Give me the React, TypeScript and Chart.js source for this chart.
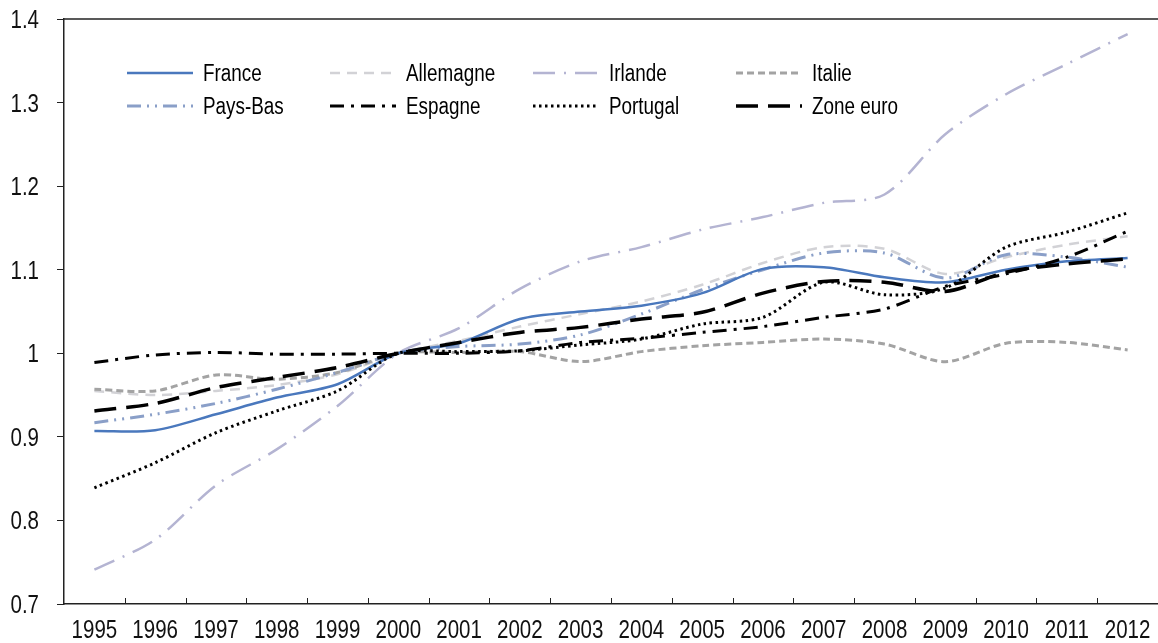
import React, { useEffect, useRef } from "react";
import { Chart, registerables } from "chart.js";

Chart.register(...registerables);

const years = ["1995","1996","1997","1998","1999","2000","2001","2002","2003","2004","2005","2006","2007","2008","2009","2010","2011","2012"];

const france =    [0.907, 0.908, 0.927, 0.947, 0.963, 1.0, 1.012, 1.041, 1.050, 1.057, 1.072, 1.101, 1.103, 1.091, 1.085, 1.100, 1.110, 1.114];
const allemagne = [0.955, 0.950, 0.955, 0.962, 0.975, 1.0, 1.015, 1.032, 1.047, 1.062, 1.082, 1.108, 1.127, 1.125, 1.095, 1.115, 1.130, 1.140];
const irlande =   [0.741, 0.777, 0.842, 0.885, 0.937, 1.0, 1.030, 1.077, 1.110, 1.127, 1.148, 1.163, 1.180, 1.190, 1.262, 1.310, 1.346, 1.382];
const italie =    [0.957, 0.955, 0.974, 0.969, 0.977, 1.0, 1.001, 1.002, 0.990, 1.002, 1.009, 1.013, 1.017, 1.011, 0.990, 1.012, 1.013, 1.004];
const paysBas =   [0.917, 0.927, 0.940, 0.957, 0.977, 1.0, 1.008, 1.011, 1.022, 1.047, 1.076, 1.100, 1.120, 1.120, 1.090, 1.118, 1.115, 1.103];
const espagne =   [0.989, 0.998, 1.001, 0.999, 0.999, 1.0, 1.000, 1.003, 1.013, 1.018, 1.025, 1.032, 1.043, 1.053, 1.080, 1.095, 1.115, 1.146];
const portugal =  [0.839, 0.869, 0.905, 0.931, 0.955, 1.0, 1.002, 1.003, 1.010, 1.017, 1.035, 1.043, 1.085, 1.070, 1.078, 1.127, 1.145, 1.168];
const zoneEuro =  [0.931, 0.940, 0.959, 0.971, 0.983, 1.0, 1.013, 1.025, 1.031, 1.041, 1.049, 1.072, 1.086, 1.085, 1.074, 1.097, 1.107, 1.113];

const seriesNames = ["France", "Allemagne", "Irlande", "Italie", "Pays-Bas", "Espagne", "Portugal", "Zone euro"];
const seriesValues = [france, allemagne, irlande, italie, paysBas, espagne, portugal, zoneEuro];
const seriesColors = ["#4a78bd", "#d2d2d6", "#b4b4d2", "#a3a3a3", "#8a9fc8", "#000000", "#000000", "#000000"];
const seriesDash = [[], [10, 7], [22, 9, 2, 9], [7, 4], [14, 6, 2, 6, 2, 6], [14, 7, 3, 7], [2.5, 3.5], [22, 10]];
const seriesWidth = [2.5, 2.5, 2.5, 3, 3, 3, 3, 3.5];
const seriesOrder = [3, 7, 6, 5, 4, 1, 2, 0];

const yTicks = [0.7, 0.8, 0.9, 1.0, 1.1, 1.2, 1.3, 1.4];

const FONT = "'Liberation Sans', Arial, sans-serif";
const CONDENSE = 0.82;

function narrowText(ctx: CanvasRenderingContext2D, text: string, x: number, y: number, align: CanvasTextAlign) {
  ctx.save();
  ctx.translate(x, y);
  ctx.scale(CONDENSE, 1);
  ctx.textAlign = align;
  ctx.fillText(text, 0, 0);
  ctx.restore();
}

const framePlugin = {
  id: "frame",
  afterDraw(chart: any) {
    const { ctx, chartArea } = chart;
    const xs = chart.scales.x;
    const ys = chart.scales.y;
    ctx.save();
    // top border
    ctx.strokeStyle = "#222";
    ctx.lineWidth = 1.5;
    ctx.beginPath();
    ctx.moveTo(chartArea.left, chartArea.top);
    ctx.lineTo(chartArea.right, chartArea.top);
    ctx.stroke();
    // inward x tick marks between categories
    const step = xs.getPixelForValue(1) - xs.getPixelForValue(0);
    ctx.lineWidth = 1;
    for (let k = 1; k < years.length; k++) {
      const x = Math.round(xs.getPixelForValue(k) - step / 2) + 0.5;
      ctx.beginPath();
      ctx.moveTo(x, chartArea.bottom);
      ctx.lineTo(x, chartArea.bottom - 6);
      ctx.stroke();
    }
    // axis labels
    ctx.fillStyle = "#111";
    ctx.font = "25px " + FONT;
    ctx.textBaseline = "alphabetic";
    years.forEach((yr, i) => {
      narrowText(ctx, yr, xs.getPixelForValue(i), chartArea.bottom + 34, "center");
    });
    yTicks.forEach((v) => {
      const label = String(Number(v.toFixed(1)));
      narrowText(ctx, label, chartArea.left - 25, ys.getPixelForValue(v) + 9, "right");
    });
    // legend
    ctx.font = "23px " + FONT;
    ctx.fillStyle = "#000";
    seriesNames.forEach((name, i) => {
      const col = i % 4;
      const row = Math.floor(i / 4);
      const x0 = chartArea.left + 63 + col * 203;
      const y0 = chartArea.top + 54 + row * 33;
      ctx.save();
      ctx.strokeStyle = seriesColors[i];
      ctx.lineWidth = seriesWidth[i];
      ctx.setLineDash(seriesDash[i]);
      ctx.beginPath();
      ctx.moveTo(x0, y0);
      ctx.lineTo(x0 + 66, y0);
      ctx.stroke();
      ctx.restore();
      narrowText(ctx, name, x0 + 76, y0 + 8, "left");
    });
    ctx.restore();
  },
};

export default function App() {
  const ref = useRef<HTMLCanvasElement>(null);
  useEffect(() => {
    if (!ref.current) return;
    const chart = new Chart(ref.current, {
      type: "line",
      data: {
        labels: years,
        datasets: seriesNames.map((name, i) => ({
          label: name,
          data: seriesValues[i],
          borderColor: seriesColors[i],
          backgroundColor: seriesColors[i],
          borderWidth: seriesWidth[i],
          borderDash: seriesDash[i],
          pointRadius: 0,
          tension: 0.3,
          fill: false,
          order: seriesOrder[i],
        })),
      },
      options: {
        responsive: false,
        animation: false,
        layout: { padding: { top: 19, left: 0, right: 0, bottom: 0 } },
        plugins: {
          legend: { display: false },
          tooltip: { enabled: false },
        },
        scales: {
          x: {
            offset: true,
            grid: { display: false, drawTicks: false },
            border: { display: true, color: "#222", width: 1.5 },
            ticks: { display: false },
            afterFit(scale: any) {
              scale.height = 39;
            },
          },
          y: {
            min: 0.7,
            max: 1.4,
            afterBuildTicks(scale: any) {
              scale.ticks = yTicks.map((v) => ({ value: v }));
            },
            grid: { drawOnChartArea: false, drawTicks: true, tickLength: 7, color: "#222" },
            border: { display: true, color: "#222", width: 1.5 },
            ticks: { display: false },
            afterFit(scale: any) {
              scale.width = 64;
            },
          },
        },
      },
      plugins: [framePlugin],
    });
    return () => chart.destroy();
  }, []);
  return (
    <div style={{ position: "fixed", left: 0, top: 0, width: 1158, height: 643, background: "#fff" }}>
      <canvas ref={ref} width={1158} height={643} />
    </div>
  );
}
